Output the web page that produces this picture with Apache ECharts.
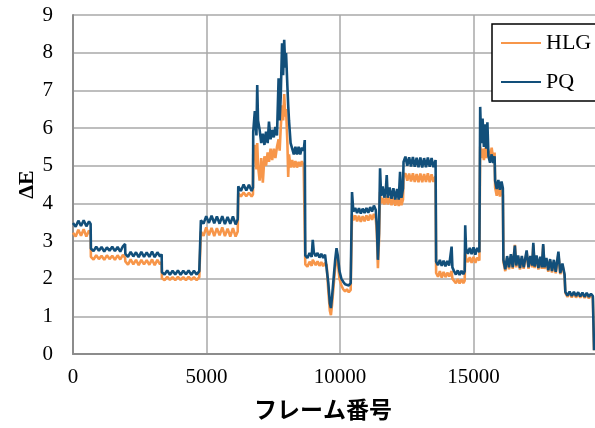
<!DOCTYPE html>
<html lang="ja">
<head>
<meta charset="UTF-8">
<title>ΔE</title>
<style>
  html, body { margin: 0; padding: 0; background: #fff; }
  #main { width: 595px; height: 428px; }
</style>
</head>
<body>
<div id="main"></div>
<script src="https://cdn.jsdelivr.net/npm/echarts@6/dist/echarts.min.js"></script>
<script>
// フレーム番号 (shared by both curves)
var frames = [
  0,100,200,300,400,500,600,660,
  670,770,870,970,1070,1170,1270,1370,1470,1570,1670,1770,1870,1950,
  1960,2060,2160,2260,2360,2460,2560,2660,2760,2860,2960,3060,3160,3260,3320,
  3330,3430,3530,3630,3730,3830,3930,4030,4130,4230,4330,4430,4530,4630,4730,4780,
  4790,4890,4990,5090,5190,5290,5390,5490,5590,5690,5790,5890,5990,6090,6170,
  6190,6290,6390,6490,6590,6690,6740,
  6750,6810,6870,6900,6930,6990,7050,7110,7170,7230,7290,7340,7400,7460,7520,7580,7640,7700,7740,7780,
  7830,7870,7910,7950,7980,8030,8060,8090,8150,8210,8270,8330,8390,8450,8510,8570,8640,8680,
  8700,8780,8860,8940,8980,9020,9090,9160,9230,9300,9370,9440,9500,
  9560,9620,9660,9700,9760,9820,9870,9920,9980,10050,10120,10190,10260,10330,10400,10440,
  10450,10500,10570,10640,10710,10780,10850,10920,10990,11060,11130,11200,11270,11340,
  11380,11420,11460,
  11500,11540,11600,11660,11720,11750,11790,11860,11930,12000,12070,12140,12200,12250,12300,12360,
  12380,12450,12520,12590,12660,12730,12800,12870,12940,13010,13080,13150,13220,13290,13360,13430,13500,13580,
  13600,13670,13740,13810,13880,13950,14020,14090,14150,14180,14210,14270,14340,14410,14480,14550,14620,14670,
  14690,14720,14790,14860,14930,15000,15070,15140,15220,
  15250,15290,15340,15390,15440,15480,15520,
  15560,15620,15680,15740,15790,
  15810,15870,15930,15990,16050,16100,
  16120,16190,16260,16330,16400,16470,16550,16600,16670,16740,16810,16880,16990,17060,17130,17200,17240,
  17290,17360,17430,17500,17560,17610,17660,17730,17800,17870,17940,18010,18080,18180,18250,18330,18410,
  18440,18520,18600,18680,18760,18840,18920,19000,19080,19160,19240,19320,19400,19470,19495,19515
];

var pq = [
  3.48,3.38,3.54,3.40,3.55,3.39,3.52,3.45,
  2.80,2.73,2.85,2.74,2.84,2.72,2.83,2.74,2.85,2.73,2.84,2.72,2.86,2.92,
  2.66,2.58,2.71,2.59,2.70,2.57,2.71,2.58,2.70,2.58,2.72,2.57,2.70,2.59,2.65,
  2.17,2.11,2.22,2.10,2.21,2.11,2.22,2.10,2.21,2.12,2.22,2.10,2.21,2.11,2.20,2.15,
  3.55,3.46,3.66,3.48,3.67,3.47,3.65,3.46,3.66,3.45,3.64,3.46,3.65,3.44,3.58,
  4.45,4.33,4.50,4.34,4.49,4.33,4.42,
  5.9,6.45,5.8,7.14,6.2,5.95,5.6,5.85,5.55,5.9,5.6,6.17,5.7,5.95,5.75,6.03,5.8,7.32,6.2,6.83,
  8.25,7.4,8.34,7.6,7.99,7.1,6.6,6.2,5.6,5.45,5.3,5.5,5.3,5.5,5.3,5.48,5.4,5.68,
  2.62,2.55,2.68,2.58,3.03,2.7,2.6,2.68,2.56,2.66,2.55,2.64,2.6,
  1.9,1.35,1.22,1.5,2.0,2.5,2.81,2.6,2.2,2.0,1.92,1.85,1.9,1.82,1.88,1.84,
  4.3,3.78,3.88,3.74,3.87,3.73,3.86,3.74,3.88,3.75,3.9,3.78,3.94,3.82,
  3.4,2.5,3.2,
  4.93,4.2,4.45,4.15,4.4,4.75,4.15,4.42,4.12,4.4,4.1,4.38,4.1,4.84,4.15,4.4,
  5.1,5.24,5.0,5.22,4.98,5.23,4.97,5.21,4.96,5.22,4.95,5.2,4.96,5.22,4.97,5.2,4.96,5.15,
  2.45,2.36,2.5,2.34,2.48,2.33,2.47,2.35,2.4,2.85,2.3,2.2,2.11,2.22,2.1,2.21,2.12,2.2,
  3.42,2.8,2.66,2.82,2.65,2.83,2.64,2.82,2.7,
  6.56,5.6,6.25,5.5,6.1,5.45,6.15,
  5.25,5.08,5.3,5.07,5.25,
  4.6,4.38,4.62,4.36,4.58,4.4,
  2.5,2.25,2.6,2.3,2.65,2.3,2.88,2.35,2.62,2.28,2.6,2.3,2.75,2.3,2.6,2.35,2.95,
  2.32,2.62,2.28,2.58,2.3,2.92,2.3,2.55,2.22,2.52,2.2,2.5,2.18,2.72,2.15,2.4,2.12,
  1.65,1.55,1.66,1.54,1.65,1.54,1.64,1.53,1.63,1.52,1.62,1.52,1.6,1.54,1.56,0.1
];

var hlg = [
  3.22,3.12,3.30,3.14,3.31,3.12,3.28,3.2,
  2.58,2.51,2.62,2.52,2.61,2.50,2.62,2.52,2.61,2.50,2.62,2.51,2.63,2.56,
  2.46,2.37,2.51,2.38,2.50,2.36,2.50,2.38,2.49,2.37,2.51,2.36,2.50,2.38,2.44,
  2.01,1.96,2.05,1.97,2.04,1.96,2.05,1.97,2.04,1.96,2.05,1.97,2.04,1.96,2.04,2.0,
  3.25,3.14,3.36,3.15,3.35,3.13,3.34,3.15,3.36,3.13,3.33,3.12,3.34,3.12,3.25,
  4.27,4.18,4.29,4.19,4.28,4.18,4.24,
  5.3,5.55,4.9,5.6,5.0,4.6,5.2,4.55,5.25,5.0,5.35,5.1,5.45,5.15,5.45,5.2,5.5,5.7,5.4,6.0,
  6.6,6.2,6.9,6.3,6.5,5.6,4.7,5.3,4.95,5.15,4.95,5.12,4.95,5.1,4.98,5.12,5.0,5.05,
  2.38,2.32,2.45,2.34,2.5,2.45,2.36,2.46,2.34,2.44,2.33,2.42,2.36,
  1.7,1.15,1.03,1.3,1.8,2.3,2.58,2.4,2.0,1.82,1.72,1.66,1.72,1.64,1.7,1.66,
  3.7,3.55,3.68,3.52,3.67,3.51,3.66,3.52,3.68,3.54,3.7,3.56,3.72,3.6,
  3.2,2.28,3.0,
  4.3,4.0,4.15,3.97,4.14,4.2,3.97,4.16,3.95,4.15,3.94,4.12,3.93,4.2,3.95,4.1,
  4.7,4.8,4.6,4.79,4.58,4.8,4.57,4.78,4.56,4.79,4.56,4.78,4.57,4.8,4.56,4.77,4.57,4.72,
  2.15,2.05,2.2,2.03,2.18,2.04,2.16,2.06,2.1,2.2,2.0,1.95,1.88,1.99,1.87,1.98,1.88,1.95,
  2.7,2.55,2.44,2.57,2.42,2.58,2.42,2.56,2.48,
  5.5,5.2,5.45,5.15,5.48,5.2,5.5,
  5.45,5.2,5.48,5.15,5.35,
  4.42,4.2,4.44,4.18,4.4,4.22,
  2.45,2.2,2.55,2.25,2.6,2.26,2.9,2.3,2.58,2.24,2.55,2.26,2.7,2.26,2.55,2.3,2.9,
  2.28,2.58,2.24,2.54,2.26,2.88,2.26,2.5,2.18,2.48,2.16,2.45,2.14,2.65,2.12,2.36,2.08,
  1.62,1.52,1.62,1.5,1.62,1.5,1.6,1.5,1.6,1.49,1.58,1.48,1.56,1.5,1.52,0.1
];

var xTicks = { min: 0, max: 20000, step: 5000 };
var yTicks = { min: 0, max: 9, step: 1 };

function pairs(vals) {
  return frames.map(function (f, i) { return [f, vals[i]]; });
}

var serif = 'Liberation Serif';
var chart = echarts.init(document.getElementById('main'));

chart.setOption({
  animation: false,
  // plot runs past the right edge (20000 is cut off in the original)
  grid: { left: 73, top: 15, width: 534, height: 339, containLabel: false, outerBoundsMode: 'none' },
  legend: {
    orient: 'vertical',
    left: 492,
    top: 24,
    padding: [8, 10, 8, 9],
    itemGap: 17,
    itemWidth: 40,
    itemHeight: 2,
    icon: 'rect',
    backgroundColor: '#fff',
    borderColor: '#000',
    borderWidth: 1.5,
    textStyle: { fontFamily: serif, fontSize: 22, color: '#000' },
    data: ['HLG', 'PQ']
  },
  xAxis: {
    type: 'value',
    min: xTicks.min,
    max: xTicks.max,
    interval: xTicks.step,
    name: 'フレーム番号',
    nameLocation: 'middle',
    nameGap: 44,
    nameTextStyle: {
      fontFamily: 'Noto Sans CJK JP',
      fontWeight: 'bold',
      fontSize: 23,
      color: '#000',
      padding: [0, 34, 0, 0]
    },
    axisLine: { show: true, lineStyle: { color: '#8c8c8c', width: 2 } },
    axisTick: { show: false },
    axisLabel: {
      margin: 13,
      showMaxLabel: false,
      fontFamily: serif,
      fontSize: 21,
      color: '#000',
      formatter: function (v) { return String(v); }
    },
    splitLine: { show: true, lineStyle: { color: '#a8a8a8', width: 1.5 } }
  },
  yAxis: {
    type: 'value',
    min: yTicks.min,
    max: yTicks.max,
    interval: yTicks.step,
    name: 'ΔE',
    nameLocation: 'middle',
    nameGap: 35,
    nameMoveOverlap: false,
    nameTextStyle: { fontFamily: serif, fontWeight: 'bold', fontSize: 22, color: '#000' },
    axisLine: { show: true, lineStyle: { color: '#8c8c8c', width: 2 } },
    axisTick: { show: false },
    axisLabel: { margin: 20, fontFamily: serif, fontSize: 21, color: '#000' },
    splitLine: { show: true, lineStyle: { color: '#a8a8a8', width: 1.5 } }
  },
  series: [
    {
      name: 'HLG',
      type: 'line',
      symbol: 'none',
      data: pairs(hlg),
      itemStyle: { color: '#f7964a' },
      lineStyle: { color: '#f7964a', width: 2.6, join: 'bevel' }
    },
    {
      name: 'PQ',
      type: 'line',
      symbol: 'none',
      data: pairs(pq),
      itemStyle: { color: '#124f7a' },
      lineStyle: { color: '#124f7a', width: 2.6, join: 'bevel' }
    }
  ]
});
</script>
</body>
</html>
